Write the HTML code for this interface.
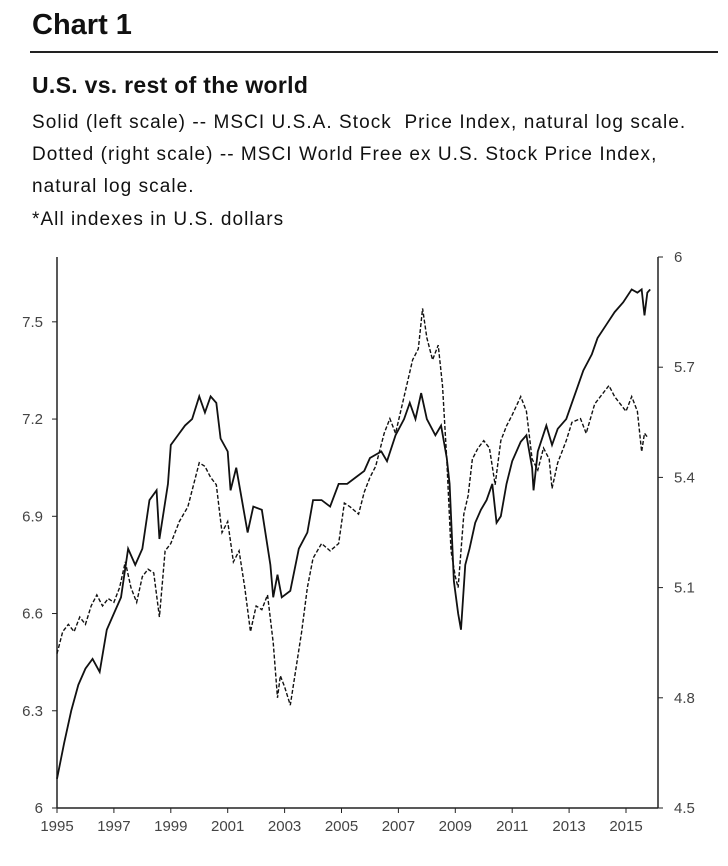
<!DOCTYPE html>
<html><head><meta charset="utf-8"><style>
body{margin:0;background:#fff;width:728px;height:866px;overflow:hidden;font-family:"Liberation Sans",sans-serif;color:#111}
.t{position:absolute;left:32px;white-space:nowrap}
.s{font-size:19px;letter-spacing:1.05px}
</style></head><body>
<div class="t" style="top:9px;font-size:29px;font-weight:bold">Chart 1</div>
<div style="position:absolute;left:30px;top:51px;width:688px;height:2px;background:#222"></div>
<div class="t" style="top:72px;font-size:23px;font-weight:bold;letter-spacing:0.3px">U.S. vs. rest of the world</div>
<div class="t s" style="top:112px">Solid (left scale) -- MSCI U.S.A. Stock&nbsp; Price Index, natural log scale.</div>
<div class="t s" style="top:144px">Dotted (right scale) -- MSCI World Free ex U.S. Stock Price Index,</div>
<div class="t s" style="top:176px">natural log scale.</div>
<div class="t s" style="top:209px">*All indexes in U.S. dollars</div>
<svg id="c" width="728" height="866" style="position:absolute;left:0;top:0"></svg>
<script>
const usYears=[1995,1995.25,1995.5,1995.75,1996,1996.25,1996.5,1996.75,1997,1997.25,1997.5,1997.75,1998,1998.25,1998.5,1998.6,1998.9,1999,1999.25,1999.5,1999.75,2000,2000.2,2000.4,2000.6,2000.75,2001,2001.1,2001.3,2001.5,2001.7,2001.9,2002.2,2002.5,2002.6,2002.75,2002.9,2003.2,2003.5,2003.8,2004,2004.3,2004.6,2004.9,2005.2,2005.5,2005.8,2006,2006.4,2006.6,2006.9,2007.2,2007.4,2007.6,2007.8,2008,2008.3,2008.5,2008.7,2008.8,2008.95,2009.1,2009.2,2009.35,2009.5,2009.7,2009.9,2010.1,2010.3,2010.45,2010.6,2010.8,2011,2011.3,2011.5,2011.7,2011.75,2011.9,2012.2,2012.4,2012.6,2012.9,2013.1,2013.3,2013.5,2013.8,2014,2014.3,2014.6,2014.9,2015.2,2015.4,2015.55,2015.65,2015.75,2015.85];
const usValues=[6.09,6.2,6.3,6.38,6.43,6.46,6.42,6.55,6.6,6.65,6.8,6.75,6.8,6.95,6.98,6.83,7.0,7.12,7.15,7.18,7.2,7.27,7.22,7.27,7.25,7.14,7.1,6.98,7.05,6.95,6.85,6.93,6.92,6.75,6.65,6.72,6.65,6.67,6.8,6.85,6.95,6.95,6.93,7.0,7.0,7.02,7.04,7.08,7.1,7.07,7.15,7.2,7.25,7.2,7.28,7.2,7.15,7.18,7.08,7.0,6.7,6.6,6.55,6.75,6.8,6.88,6.92,6.95,7.0,6.88,6.9,7.0,7.07,7.13,7.15,7.05,6.98,7.1,7.18,7.12,7.17,7.2,7.25,7.3,7.35,7.4,7.45,7.49,7.53,7.56,7.6,7.59,7.6,7.52,7.59,7.6];
const worldYears=[1995,1995.2,1995.4,1995.6,1995.8,1996,1996.2,1996.4,1996.6,1996.8,1997,1997.2,1997.4,1997.6,1997.8,1998,1998.2,1998.4,1998.6,1998.8,1999,1999.3,1999.6,2000,2000.2,2000.4,2000.6,2000.8,2001,2001.2,2001.4,2001.6,2001.8,2002,2002.2,2002.4,2002.6,2002.75,2002.85,2003,2003.2,2003.4,2003.6,2003.8,2004,2004.3,2004.6,2004.9,2005.1,2005.3,2005.6,2005.8,2006,2006.2,2006.5,2006.7,2006.9,2007.2,2007.5,2007.7,2007.85,2008,2008.2,2008.4,2008.55,2008.7,2008.85,2009,2009.1,2009.3,2009.45,2009.6,2009.8,2010,2010.2,2010.4,2010.6,2010.8,2011,2011.3,2011.5,2011.7,2011.9,2012.1,2012.3,2012.4,2012.6,2012.9,2013.1,2013.4,2013.6,2013.9,2014.1,2014.4,2014.6,2014.8,2015,2015.2,2015.4,2015.55,2015.65,2015.75];
const worldValues=[4.92,4.98,5.0,4.98,5.02,5.0,5.05,5.08,5.05,5.07,5.06,5.1,5.17,5.1,5.06,5.13,5.15,5.14,5.02,5.2,5.22,5.28,5.32,5.44,5.43,5.4,5.38,5.25,5.28,5.17,5.2,5.1,4.98,5.05,5.04,5.08,4.95,4.8,4.86,4.83,4.78,4.88,4.98,5.1,5.18,5.22,5.2,5.22,5.33,5.32,5.3,5.36,5.4,5.43,5.52,5.56,5.52,5.62,5.72,5.75,5.86,5.78,5.72,5.76,5.65,5.45,5.2,5.13,5.1,5.3,5.35,5.45,5.48,5.5,5.48,5.38,5.5,5.54,5.57,5.62,5.58,5.45,5.42,5.48,5.45,5.37,5.44,5.5,5.55,5.56,5.52,5.6,5.62,5.65,5.62,5.6,5.58,5.62,5.58,5.47,5.52,5.51];
const leftTicks=[6,6.3,6.6,6.9,7.2,7.5];
const rightTicks=[4.5,4.8,5.1,5.4,5.7,6];
const xTicks=[1995,1997,1999,2001,2003,2005,2007,2009,2011,2013,2015];
const L=57,R=658,T=257,B=808;
const x=v=>L+(v-1995)*28.45;
const yl=v=>B-(v-6)/1.7*(B-T);
const yr=v=>B-(v-4.5)/1.5*(B-T);
const s=document.getElementById('c'),NS='http://www.w3.org/2000/svg';
function mk(t,a){const e=document.createElementNS(NS,t);for(const k in a)e.setAttribute(k,a[k]);s.appendChild(e);return e;}
let e;
e=mk('line',{x1:L,y1:T,x2:L,y2:B,stroke:'#222','stroke-width':1.5});


e=mk('line',{x1:R,y1:T,x2:R,y2:B,stroke:'#222','stroke-width':1.5});


e=mk('line',{x1:L,y1:B,x2:R,y2:B,stroke:'#222','stroke-width':1.5});


leftTicks.forEach(v=>{mk('line',{x1:L-5,y1:yl(v),x2:L,y2:yl(v),stroke:'#222'});
e=mk('text',{x:L-14,y:yl(v)+5,'text-anchor':'end','font-size':15,fill:'#444'});e.textContent=String(v===6?'6':v.toFixed(1));

});
rightTicks.forEach(v=>{mk('line',{x1:R,y1:yr(v),x2:R+5,y2:yr(v),stroke:'#222'});
e=mk('text',{x:R+16,y:yr(v)+5,'font-size':15,fill:'#444'});e.textContent=(v===6?'6':v.toFixed(1));

});
xTicks.forEach(v=>{mk('line',{x1:x(v),y1:B,x2:x(v),y2:B+5,stroke:'#222'});
e=mk('text',{x:x(v),y:B+23,'text-anchor':'middle','font-size':15,fill:'#444'});e.textContent=v;

});
e=mk('polyline',{points:usYears.map((t,i)=>x(t)+','+yl(usValues[i])).join(' '),fill:'none',stroke:'#111','stroke-width':1.8});


e=mk('polyline',{points:worldYears.map((t,i)=>x(t)+','+yr(worldValues[i])).join(' '),fill:'none',stroke:'#111','stroke-width':1.4,'stroke-dasharray':'4,2'});


</script>
</body></html>
